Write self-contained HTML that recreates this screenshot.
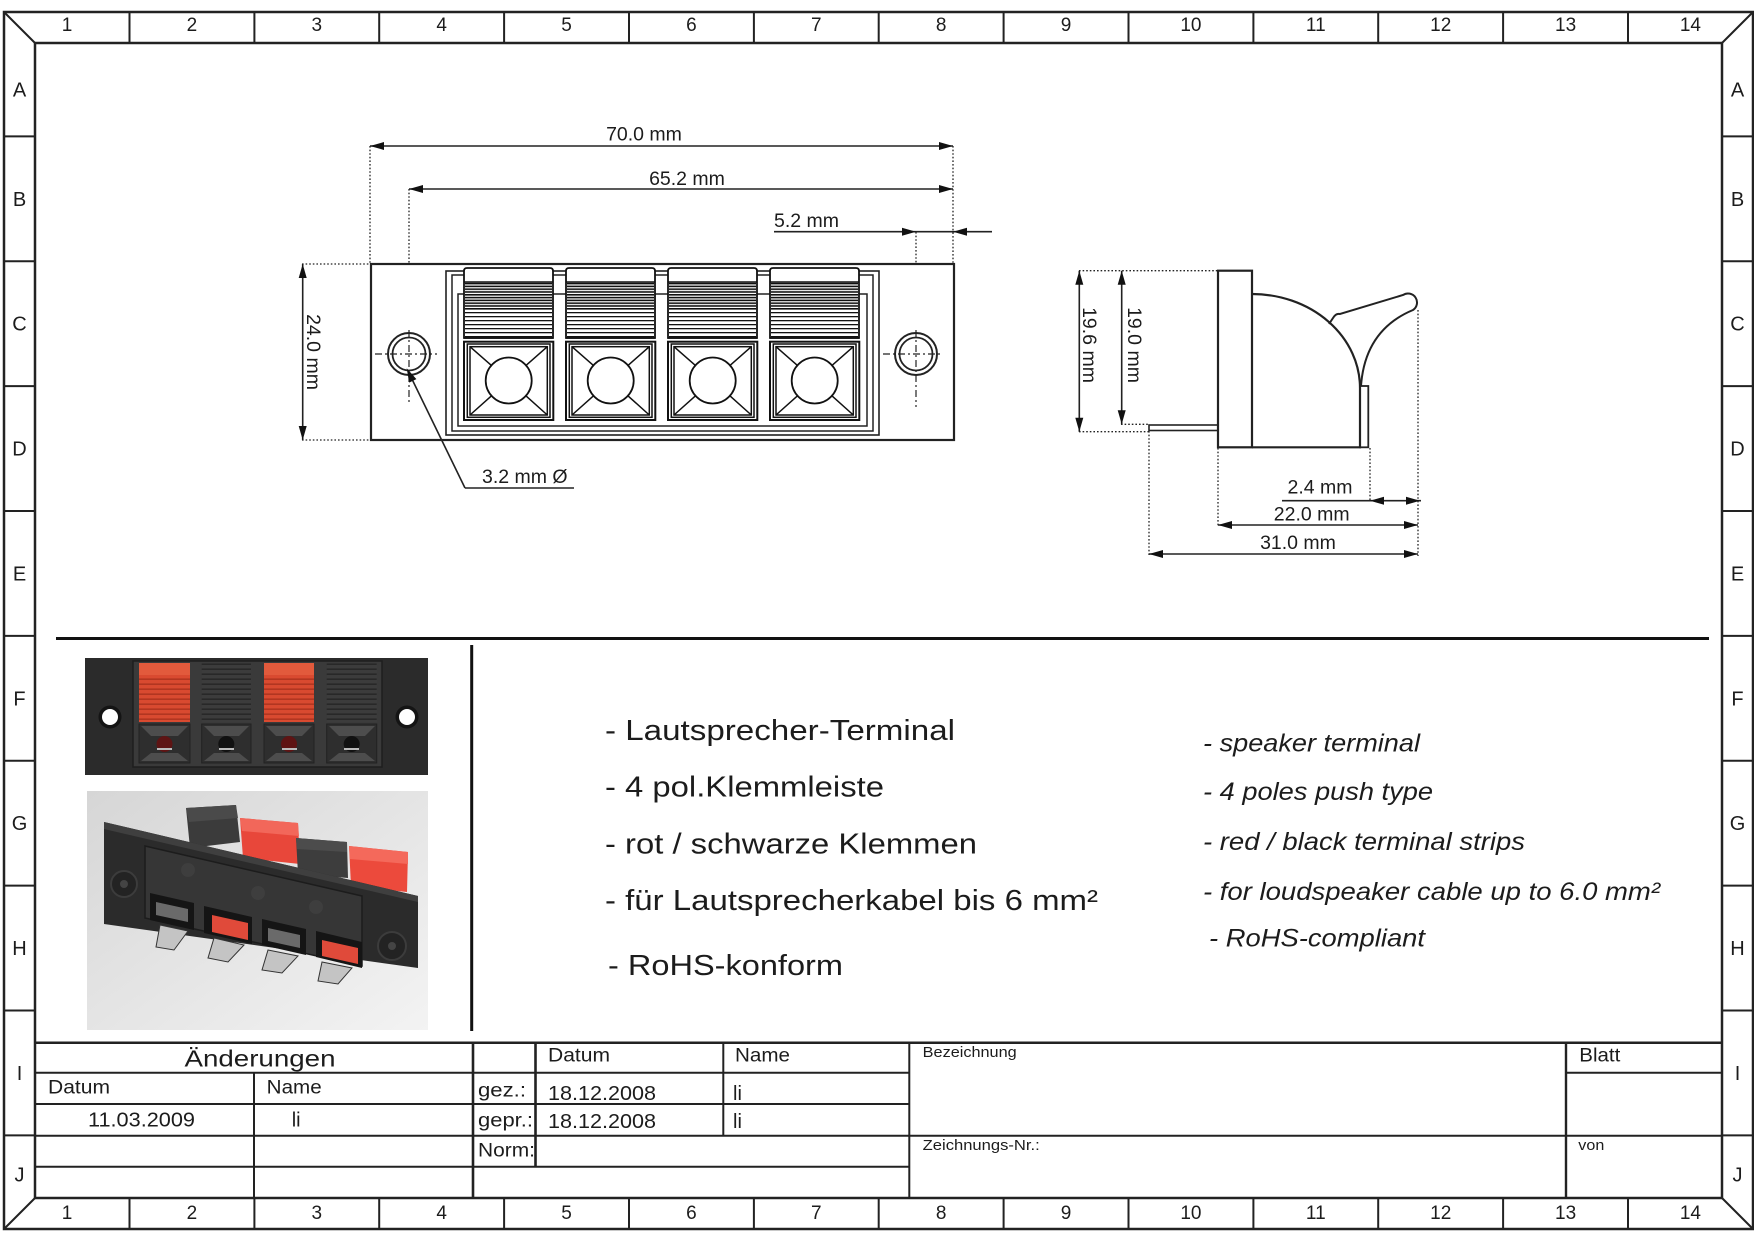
<!DOCTYPE html>
<html><head><meta charset="utf-8"><style>
html,body{margin:0;padding:0;background:#fff;}
svg{display:block;}
text{font-family:"Liberation Sans",Arial,sans-serif;fill:#1c1c1c;}
</style></head><body>
<svg xmlns="http://www.w3.org/2000/svg" width="1754" height="1240" viewBox="0 0 1754 1240">
<defs>
<pattern id="ribA" width="10" height="2.8" patternUnits="userSpaceOnUse"><rect width="10" height="1.6" fill="#111"/></pattern>
<pattern id="ribB" width="10" height="4" patternUnits="userSpaceOnUse"><rect width="10" height="1.3" fill="#111"/></pattern>
<pattern id="ribRed" width="10" height="5" patternUnits="userSpaceOnUse"><rect width="10" height="5" fill="#d94a30"/><rect y="3.5" width="10" height="1.3" fill="#a9311d"/></pattern>
<pattern id="ribBlk" width="10" height="5" patternUnits="userSpaceOnUse"><rect width="10" height="5" fill="#3c3c3c"/><rect y="3.5" width="10" height="1.3" fill="#232323"/></pattern>
<linearGradient id="bg2" x1="0" y1="0" x2="1" y2="1"><stop offset="0" stop-color="#d6d6d6"/><stop offset="1" stop-color="#f3f3f3"/></linearGradient>
<g id="term" stroke="#111" fill="none" stroke-width="1.5">
 <path d="M0,338 V271 Q0,268 3,268 H86 Q89,268 89,271 V338 Z" fill="#fff" stroke-width="1.8"/>
 <rect x="1" y="282" width="87" height="28" fill="url(#ribA)" stroke="none"/>
 <rect x="1" y="310" width="87" height="28" fill="url(#ribB)" stroke="none"/>
 <line x1="0" y1="282" x2="89" y2="282"/>
 <line x1="0" y1="338" x2="89" y2="338"/>
 <rect x="0" y="341.7" width="89.3" height="78.3" fill="#fff" stroke-width="2"/>
 <rect x="3.3" y="344" width="82.7" height="73.3"/>
 <rect x="6" y="346.7" width="77.3" height="68.3"/>
 <circle cx="44.7" cy="380.5" r="23" stroke-width="1.8"/>
 <path d="M6,346.7 L27.4,365.4 M83.3,346.7 L62,365.4 M6,415 L27.5,395.8 M83.3,415 L61.9,395.8"/>
</g>
</defs>

<!-- ===== Sheet frame ===== -->
<g stroke="#222" fill="none">
 <rect x="4" y="12" width="1749" height="1217" stroke-width="2.5"/>
 <rect x="35" y="43" width="1687" height="1155" stroke-width="2.5"/>
 <path d="M4,12 L35,43 M1753,12 L1722,43 M4,1229 L35,1198 M1753,1229 L1722,1198" stroke-width="2"/>
 <path stroke-width="2" d="
 M129.5,12V43 M254.4,12V43 M379.2,12V43 M504.1,12V43 M629,12V43 M753.9,12V43 M878.7,12V43 M1003.6,12V43 M1128.5,12V43 M1253.4,12V43 M1378.2,12V43 M1503.1,12V43 M1628,12V43
 M129.5,1198V1229 M254.4,1198V1229 M379.2,1198V1229 M504.1,1198V1229 M629,1198V1229 M753.9,1198V1229 M878.7,1198V1229 M1003.6,1198V1229 M1128.5,1198V1229 M1253.4,1198V1229 M1378.2,1198V1229 M1503.1,1198V1229 M1628,1198V1229
 M4,136.4H35 M4,261.3H35 M4,386.1H35 M4,511H35 M4,635.9H35 M4,760.8H35 M4,885.6H35 M4,1010.5H35 M4,1135.4H35
 M1722,136.4H1753 M1722,261.3H1753 M1722,386.1H1753 M1722,511H1753 M1722,635.9H1753 M1722,760.8H1753 M1722,885.6H1753 M1722,1010.5H1753 M1722,1135.4H1753"/>
</g>
<g font-size="19" text-anchor="middle">
 <text x="67" y="31">1</text><text x="191.9" y="31">2</text><text x="316.8" y="31">3</text><text x="441.7" y="31">4</text><text x="566.6" y="31">5</text><text x="691.4" y="31">6</text><text x="816.3" y="31">7</text><text x="941.2" y="31">8</text><text x="1066.1" y="31">9</text><text x="1190.9" y="31">10</text><text x="1315.8" y="31">11</text><text x="1440.7" y="31">12</text><text x="1565.6" y="31">13</text><text x="1690.4" y="31">14</text>
 <text x="67" y="1219">1</text><text x="191.9" y="1219">2</text><text x="316.8" y="1219">3</text><text x="441.7" y="1219">4</text><text x="566.6" y="1219">5</text><text x="691.4" y="1219">6</text><text x="816.3" y="1219">7</text><text x="941.2" y="1219">8</text><text x="1066.1" y="1219">9</text><text x="1190.9" y="1219">10</text><text x="1315.8" y="1219">11</text><text x="1440.7" y="1219">12</text><text x="1565.6" y="1219">13</text><text x="1690.4" y="1219">14</text>
</g>
<g font-size="20" text-anchor="middle">
 <text x="19.5" y="96.7">A</text><text x="19.5" y="205.9">B</text><text x="19.5" y="330.7">C</text><text x="19.5" y="455.6">D</text><text x="19.5" y="580.5">E</text><text x="19.5" y="705.4">F</text><text x="19.5" y="830.2">G</text><text x="19.5" y="955.1">H</text><text x="19.5" y="1080">I</text><text x="19.5" y="1181.5">J</text>
 <text x="1737.5" y="96.7">A</text><text x="1737.5" y="205.9">B</text><text x="1737.5" y="330.7">C</text><text x="1737.5" y="455.6">D</text><text x="1737.5" y="580.5">E</text><text x="1737.5" y="705.4">F</text><text x="1737.5" y="830.2">G</text><text x="1737.5" y="955.1">H</text><text x="1737.5" y="1080">I</text><text x="1737.5" y="1181.5">J</text>
</g>

<!-- ===== Front view ===== -->
<g stroke="#222" fill="none">
 <!-- dotted extension lines -->
 <g stroke-width="1.3" stroke-dasharray="1.6 2">
  <line x1="370" y1="146" x2="370" y2="264"/>
  <line x1="953" y1="146" x2="953" y2="264"/>
  <line x1="409" y1="189" x2="409" y2="330"/>
  <line x1="916" y1="232" x2="916" y2="330"/>
  <line x1="302" y1="264" x2="371" y2="264"/>
  <line x1="302" y1="440" x2="371" y2="440"/>
 </g>
 <!-- body -->
 <rect x="371" y="264" width="583" height="176" stroke-width="2.2" fill="#fff"/>
 <rect x="446" y="271" width="433" height="164" stroke-width="1.6"/>
 <rect x="452" y="275" width="421" height="156" stroke-width="1.5"/>
 <rect x="458" y="294" width="409" height="132" stroke-width="1.5"/>
</g>
<use href="#term" x="464" y="0"/>
<use href="#term" x="566" y="0"/>
<use href="#term" x="668" y="0"/>
<use href="#term" x="770" y="0"/>
<g stroke="#222" fill="none">
 <!-- holes -->
 <circle cx="409" cy="354" r="21" stroke-width="2"/>
 <circle cx="409" cy="354" r="16.5" stroke-width="1.8"/>
 <circle cx="916" cy="354" r="21" stroke-width="2"/>
 <circle cx="916" cy="354" r="16.5" stroke-width="1.8"/>
 <g stroke-width="1.2" stroke-dasharray="7 3 2 3">
  <line x1="375" y1="354" x2="437" y2="354"/>
  <line x1="409" y1="330" x2="409" y2="404"/>
  <line x1="883" y1="354" x2="940" y2="354"/>
  <line x1="916" y1="330" x2="916" y2="407"/>
 </g>
 <!-- dimension lines -->
 <g stroke-width="1.6">
  <line x1="370" y1="146" x2="953" y2="146"/>
  <line x1="409" y1="189" x2="953" y2="189"/>
  <line x1="774" y1="231.7" x2="992" y2="231.7"/>
  <line x1="302.7" y1="264" x2="302.7" y2="440"/>
  <line x1="465" y1="488" x2="409" y2="373"/>
  <line x1="465" y1="488" x2="574" y2="488"/>
 </g>
</g>
<g fill="#111">
 <polygon points="370,146 384,142 384,150"/>
 <polygon points="953,146 939,142 939,150"/>
 <polygon points="409,189 423,185 423,193"/>
 <polygon points="953,189 939,185 939,193"/>
 <polygon points="916,231.7 902,227.7 902,235.7"/>
 <polygon points="953,231.7 967,227.7 967,235.7"/>
 <polygon points="302.7,264 298.7,278 306.7,278"/>
 <polygon points="302.7,440 298.7,426 306.7,426"/>
 <polygon points="406.7,368.3 416.4,379.1 409.2,382.6"/>
</g>
<g font-size="19.5">
 <text x="644" y="140.7" text-anchor="middle">70.0 mm</text>
 <text x="687" y="185" text-anchor="middle">65.2 mm</text>
 <text x="774" y="227">5.2 mm</text>
 <text x="482" y="483">3.2 mm Ø</text>
 <text transform="translate(307,352) rotate(90)" text-anchor="middle">24.0 mm</text>
</g>

<!-- ===== Side view ===== -->
<g stroke="#222" fill="none">
 <g stroke-width="1.3" stroke-dasharray="1.6 2">
  <line x1="1079" y1="270.7" x2="1218" y2="270.7"/>
  <line x1="1079" y1="431.7" x2="1149" y2="431.7"/>
  <line x1="1121" y1="424.3" x2="1149" y2="424.3"/>
  <line x1="1149" y1="431" x2="1149" y2="556"/>
  <line x1="1218" y1="448" x2="1218" y2="527"/>
  <line x1="1370" y1="448" x2="1370" y2="502"/>
  <line x1="1418" y1="310" x2="1418" y2="556"/>
 </g>
 <rect x="1149" y="425" width="69" height="5.5" stroke-width="1.6" fill="#fff"/>
 <rect x="1218" y="270.7" width="34" height="176.6" stroke-width="2.2" fill="#fff"/>
 <path d="M1252,294 A108,94 0 0 1 1360,388 L1360,447.3 L1252,447.3" stroke-width="2.2"/>
 <rect x="1360" y="386" width="8.3" height="61.3" stroke-width="1.8"/>
 <path d="M1329,324 L1333,318 Q1336,313 1340,314 L1403,295 A8.5,8.5 0 0 1 1413,310 Q1365,330 1361,386" stroke-width="2"/>
 <g stroke-width="1.6">
  <line x1="1079.3" y1="270.7" x2="1079.3" y2="431.7"/>
  <line x1="1121.7" y1="270.7" x2="1121.7" y2="424.3"/>
  <line x1="1282" y1="500.7" x2="1421" y2="500.7"/>
  <line x1="1218" y1="525" x2="1418" y2="525"/>
  <line x1="1149" y1="554" x2="1418" y2="554"/>
 </g>
</g>
<g fill="#111">
 <polygon points="1079.3,270.7 1075.3,284.7 1083.3,284.7"/>
 <polygon points="1079.3,431.7 1075.3,417.7 1083.3,417.7"/>
 <polygon points="1121.7,270.7 1117.7,284.7 1125.7,284.7"/>
 <polygon points="1121.7,424.3 1117.7,410.3 1125.7,410.3"/>
 <polygon points="1370,500.7 1384,496.7 1384,504.7"/>
 <polygon points="1420,500.7 1406,496.7 1406,504.7"/>
 <polygon points="1218,525 1232,521 1232,529"/>
 <polygon points="1418,525 1404,521 1404,529"/>
 <polygon points="1149,554 1163,550 1163,558"/>
 <polygon points="1418,554 1404,550 1404,558"/>
</g>
<g font-size="19.5">
 <text x="1320" y="493.3" text-anchor="middle">2.4 mm</text>
 <text x="1311.7" y="520.7" text-anchor="middle">22.0 mm</text>
 <text x="1298" y="549" text-anchor="middle">31.0 mm</text>
 <text transform="translate(1083,345) rotate(90)" text-anchor="middle">19.6 mm</text>
 <text transform="translate(1128,345) rotate(90)" text-anchor="middle">19.0 mm</text>
</g>

<!-- ===== separators ===== -->
<line x1="56" y1="638.5" x2="1709" y2="638.5" stroke="#111" stroke-width="3"/>
<line x1="471.7" y1="645" x2="471.7" y2="1031" stroke="#111" stroke-width="3"/>

<!-- ===== Photo 1 (front) ===== -->
<g>
 <rect x="85" y="658" width="343" height="117" fill="#2b2b2b"/>
 <rect x="133" y="661" width="249" height="106" fill="#3a3a3a" stroke="#1e1e1e" stroke-width="1.5"/>
 <rect x="139" y="663" width="51" height="59" fill="url(#ribRed)"/>
 <rect x="139" y="663" width="51" height="12" fill="#e25a3c"/>
 <rect x="201.7" y="663" width="49.3" height="59" fill="url(#ribBlk)"/>
 <rect x="264" y="663" width="50" height="59" fill="url(#ribRed)"/>
 <rect x="264" y="663" width="50" height="12" fill="#e25a3c"/>
 <rect x="326.7" y="663" width="50" height="59" fill="url(#ribBlk)"/>
 <g fill="#2e2e2e" stroke="#222" stroke-width="1">
  <rect x="139" y="724" width="51" height="39"/>
  <rect x="201.7" y="724" width="49.3" height="39"/>
  <rect x="264" y="724" width="50" height="39"/>
  <rect x="326.7" y="724" width="50" height="39"/>
 </g>
 <g fill="#4d4d4d">
  <polygon points="141,726 188,726 178,736 151,736"/>
  <polygon points="204,726 249,726 239,736 214,736"/>
  <polygon points="266,726 312,726 302,736 276,736"/>
  <polygon points="329,726 375,726 365,736 339,736"/>
  <polygon points="141,761 188,761 178,753 151,753"/>
  <polygon points="204,761 249,761 239,753 214,753"/>
  <polygon points="266,761 312,761 302,753 276,753"/>
  <polygon points="329,761 375,761 365,753 339,753"/>
 </g>
 <circle cx="164.5" cy="744" r="8" fill="#5e1414"/>
 <circle cx="226.3" cy="744" r="8" fill="#111"/>
 <circle cx="289" cy="744" r="8" fill="#5e1414"/>
 <circle cx="351.7" cy="744" r="8" fill="#111"/>
 <g fill="#bbb"><rect x="157" y="748" width="15" height="2"/><rect x="219" y="748" width="15" height="2"/><rect x="282" y="748" width="15" height="2"/><rect x="344" y="748" width="15" height="2"/></g>
 <circle cx="110" cy="717" r="11.5" fill="#141414"/>
 <circle cx="110" cy="717" r="8" fill="#fff"/>
 <circle cx="407" cy="717" r="11.5" fill="#141414"/>
 <circle cx="407" cy="717" r="8" fill="#fff"/>
</g>

<!-- ===== Photo 2 (perspective) ===== -->
<g>
 <rect x="87" y="791" width="341" height="239" fill="url(#bg2)"/>
 <polygon points="186,808 236,805 240,842 190,848" fill="#3b3b3b"/>
 <polygon points="186,808 236,805 238,818 189,822" fill="#4a4a4a"/>
 <polygon points="240,818 298,823 300,864 243,858" fill="#e8473a"/>
 <polygon points="240,818 298,823 299,836 242,831" fill="#f2675a"/>
 <polygon points="296,838 347,842 348,878 298,874" fill="#3d3d3d"/>
 <polygon points="296,838 347,842 347,852 297,849" fill="#4c4c4c"/>
 <polygon points="349,846 408,852 407,892 351,886" fill="#ec4a3c"/>
 <polygon points="349,846 408,852 408,864 350,859" fill="#f4695b"/>
 <polygon points="104,822 418,896 418,968 104,924" fill="#2b2b2b"/>
 <polygon points="104,822 418,896 418,902 104,829" fill="#3f3f3f"/>
 <polygon points="145,846 362,896 362,966 145,918" fill="#363636" stroke="#1c1c1c" stroke-width="1.5"/>
 <circle cx="188" cy="870" r="7" fill="#3e3e3e"/>
 <circle cx="258" cy="893" r="7" fill="#3e3e3e"/>
 <circle cx="316" cy="907" r="7" fill="#3e3e3e"/>
 <g fill="#151515">
  <polygon points="150,893 194,903 194,930 150,920"/>
  <polygon points="204,906 252,917 252,944 204,933"/>
  <polygon points="262,919 306,929 306,955 262,945"/>
  <polygon points="316,931 362,942 362,968 316,957"/>
 </g>
 <polygon points="156,902 188,909 188,922 156,915" fill="#6a6a6a"/>
 <polygon points="212,915 248,923 248,940 212,932" fill="#e04a3a"/>
 <polygon points="268,928 300,935 300,948 268,941" fill="#6a6a6a"/>
 <polygon points="322,940 358,948 358,964 322,956" fill="#e04a3a"/>
 <g fill="#c4c4c4" stroke="#333" stroke-width="1">
  <polygon points="160,925 188,931 174,950 156,947"/>
  <polygon points="214,938 244,945 228,962 208,958"/>
  <polygon points="268,950 298,956 282,973 262,970"/>
  <polygon points="322,962 352,968 338,984 318,981"/>
 </g>
 <circle cx="124" cy="884" r="13" fill="#232323" stroke="#3c3c3c" stroke-width="2"/>
 <circle cx="124" cy="884" r="4" fill="#444"/>
 <circle cx="392" cy="946" r="14" fill="#232323" stroke="#3c3c3c" stroke-width="2"/>
 <circle cx="392" cy="946" r="4" fill="#444"/>
</g>

<!-- ===== Description text ===== -->
<g font-size="29">
 <text x="605" y="740" textLength="350" lengthAdjust="spacingAndGlyphs">- Lautsprecher-Terminal</text>
 <text x="605" y="796.7" textLength="279" lengthAdjust="spacingAndGlyphs">- 4 pol.Klemmleiste</text>
 <text x="605" y="853.3" textLength="372" lengthAdjust="spacingAndGlyphs">- rot / schwarze Klemmen</text>
 <text x="605" y="910" textLength="493" lengthAdjust="spacingAndGlyphs">- für Lautsprecherkabel bis 6 mm²</text>
 <text x="608" y="975" textLength="235" lengthAdjust="spacingAndGlyphs">- RoHS-konform</text>
</g>
<g font-size="25" font-style="italic">
 <text x="1203" y="751.7" textLength="217" lengthAdjust="spacingAndGlyphs">- speaker terminal</text>
 <text x="1203" y="800" textLength="230" lengthAdjust="spacingAndGlyphs">- 4 poles push type</text>
 <text x="1203" y="850" textLength="322" lengthAdjust="spacingAndGlyphs">- red / black terminal strips</text>
 <text x="1203" y="900" textLength="457" lengthAdjust="spacingAndGlyphs">- for loudspeaker cable up to 6.0 mm²</text>
 <text x="1209" y="946.7" textLength="216" lengthAdjust="spacingAndGlyphs">- RoHS-compliant</text>
</g>

<!-- ===== Title block ===== -->
<g stroke="#222" fill="none" stroke-width="2">
 <line x1="35" y1="1042.7" x2="1722" y2="1042.7" stroke-width="2.5"/>
 <line x1="35" y1="1072.7" x2="909" y2="1072.7"/>
 <line x1="1566" y1="1072.7" x2="1722" y2="1072.7"/>
 <line x1="35" y1="1104" x2="909" y2="1104"/>
 <line x1="35" y1="1135.7" x2="1722" y2="1135.7"/>
 <line x1="35" y1="1166.7" x2="909" y2="1166.7"/>
 <line x1="254" y1="1072.7" x2="254" y2="1198"/>
 <line x1="473" y1="1042.7" x2="473" y2="1198" stroke-width="2.6"/>
 <line x1="535.5" y1="1042.7" x2="535.5" y2="1166.7" stroke-width="2.6"/>
 <line x1="723.3" y1="1042.7" x2="723.3" y2="1135.7"/>
 <line x1="909.3" y1="1042.7" x2="909.3" y2="1198"/>
 <line x1="1566" y1="1042.7" x2="1566" y2="1198" stroke-width="2.4"/>
</g>
<g font-size="19">
 <text x="260" y="1066.7" font-size="23" text-anchor="middle" textLength="151" lengthAdjust="spacingAndGlyphs">Änderungen</text>
 <text x="48" y="1093.3" textLength="62" lengthAdjust="spacingAndGlyphs">Datum</text>
 <text x="266.7" y="1093.3" textLength="55" lengthAdjust="spacingAndGlyphs">Name</text>
 <text x="88" y="1126.7" font-size="20" textLength="107" lengthAdjust="spacingAndGlyphs">11.03.2009</text>
 <text x="291.7" y="1126.7" font-size="20">li</text>
 <text x="548" y="1061.7" textLength="62" lengthAdjust="spacingAndGlyphs">Datum</text>
 <text x="735" y="1061.7" textLength="55" lengthAdjust="spacingAndGlyphs">Name</text>
 <text x="478" y="1096.7" textLength="48" lengthAdjust="spacingAndGlyphs">gez.:</text>
 <text x="548" y="1100" font-size="20" textLength="108" lengthAdjust="spacingAndGlyphs">18.12.2008</text>
 <text x="733" y="1100" font-size="20">li</text>
 <text x="478" y="1126.7" textLength="55" lengthAdjust="spacingAndGlyphs">gepr.:</text>
 <text x="548" y="1128" font-size="20" textLength="108" lengthAdjust="spacingAndGlyphs">18.12.2008</text>
 <text x="733" y="1128" font-size="20">li</text>
 <text x="478" y="1156.7" textLength="57" lengthAdjust="spacingAndGlyphs">Norm:</text>
 <text x="1579.3" y="1061.7" textLength="41" lengthAdjust="spacingAndGlyphs">Blatt</text>
 <text x="922.7" y="1057" font-size="14.5" textLength="94" lengthAdjust="spacingAndGlyphs">Bezeichnung</text>
 <text x="922.7" y="1150" font-size="14.5" textLength="117" lengthAdjust="spacingAndGlyphs">Zeichnungs-Nr.:</text>
 <text x="1578.3" y="1150" font-size="14.5" textLength="26" lengthAdjust="spacingAndGlyphs">von</text>
</g>
</svg>
</body></html>
